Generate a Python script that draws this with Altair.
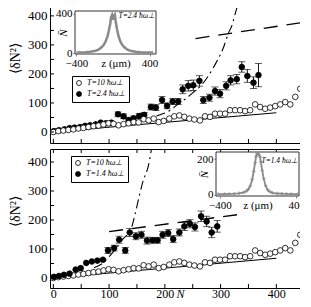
import altair as alt
import pandas as pd

# ---------------- data ----------------
lab_open = "T=10 ħω⊥"
lab_top = "T=2.4 ħω⊥"
lab_bot = "T=1.4 ħω⊥"

open_n = [0, 9, 18, 27, 36, 45, 54, 63, 72, 81, 90, 99, 108, 117, 126, 135, 144, 153, 162, 171,
          180, 189, 198, 208, 217, 226, 235, 244, 253, 263, 272, 281, 290, 299, 308, 317, 326, 335, 344, 353,
          362, 371, 380, 389, 398, 407, 416, 425, 434, 443]
open_v = [0, 3, 5, 7, 9, 12, 14, 17, 20, 22, 26, 30, 28, 23, 27, 30, 34, 33, 44, 40,
          46, 34, 38, 46, 54, 57, 52, 46, 43, 40, 54, 52, 63, 63, 63, 75, 75, 75, 72, 75,
          95, 86, 80, 84, 89, 95, 103, 95, 121, 149]

top_n = [1, 10, 20, 29, 38, 48, 57, 66, 76, 85, 94, 104, 116, 126, 135, 144, 154, 163, 175, 184,
         195, 204, 214, 224, 232, 242, 251, 262, 269, 280, 290, 299, 310, 318, 329, 338, 348, 359, 368]
top_v = [3, 6, 9, 13, 15, 17, 21, 23, 26, 32, 30, 32, 61, 54, 41, 47, 55, 59, 86, 84,
         110, 90, 105, 105, 147, 159, 161, 176, 110, 118, 141, 132, 159, 178, 182, 224, 193, 170, 196]
top_e = [0, 0, 0, 0, 0, 0, 0, 0, 0, 0, 0, 0, 8, 8, 8, 8, 8, 8, 10, 10,
         12, 10, 10, 10, 15, 18, 18, 18, 12, 12, 14, 14, 14, 16, 16, 18, 22, 20, 40]

bot_n = [1, 10, 19, 29, 40, 49, 59, 69, 79, 89, 98, 109, 118, 129, 137, 148, 158, 168, 178, 187,
         196, 206, 215, 226, 235, 245, 254, 265, 275, 284, 294]
bot_v = [4, 7, 11, 15, 29, 34, 52, 57, 60, 63, 95, 103, 132, 95, 157, 144, 149, 129, 130, 130,
         149, 155, 134, 157, 178, 187, 176, 213, 195, 157, 178]
bot_e = [0, 0, 0, 0, 0, 0, 0, 0, 0, 0, 10, 10, 12, 10, 14, 12, 12, 12, 10, 10,
         12, 12, 12, 12, 14, 14, 14, 18, 18, 18, 20]

solid_n = [0, 400]
solid_top_v = [0, 66]
solid_bot_v = [0, 68]

dd_top_n = [185, 200, 210, 226, 240, 250, 265, 280, 292, 305, 315, 320, 328, 332]
dd_top_v = [55, 65, 75, 100, 118, 135, 160, 199, 239, 290, 345, 365, 420, 445]
da_top_n = [255, 450]
da_top_v = [322, 378]

dd_bot_n = [73, 88, 103, 115, 125, 139, 146, 152, 160, 172, 176]
dd_bot_v = [35, 50, 80, 108, 135, 167, 215, 265, 328, 400, 445]
da_bot_n = [100, 345]
da_bot_v = [160, 222]

# inset density profiles
zt = [-400, -350, -300, -250, -200, -175, -150, -125, -100, -80, -60, -45, -30, -20, -10, 0,
      10, 20, 30, 45, 60, 80, 100, 125, 150, 175, 200, 250, 300, 350, 400, 440]
pt = [5, 6, 8, 12, 20, 28, 40, 58, 85, 120, 170, 230, 300, 370, 390, 340,
      380, 395, 320, 240, 175, 120, 85, 58, 40, 28, 20, 12, 8, 6, 5, 5]
zb = [-420, -350, -300, -250, -200, -150, -120, -100, -80, -60, -45, -30, -20, -10, 0,
      10, 20, 30, 45, 60, 80, 100, 120, 150, 200, 250, 300, 350, 420]
pb = [3, 3, 4, 5, 7, 12, 20, 30, 50, 85, 130, 180, 215, 230, 232,
      225, 215, 185, 135, 90, 50, 28, 18, 10, 6, 5, 4, 3, 3]

xtick_vals = [0, 50, 100, 150, 200, 250, 300, 350, 400, 450]
ytick_vals = [0, 50, 100, 150, 200, 250, 300, 350, 400]

# ---------------- layout ----------------
W, H = 257, 139
XDOM = [-6, 455]
SERIF = "Liberation Serif"


def main_panel(flab, fn, fv, fe, ydom, solid_v, ddn, ddv, dan, dav, show_x, lx, ly, ty_title):
    xs = alt.Scale(domain=XDOM, nice=False, zero=False)
    ys = alt.Scale(domain=ydom, nice=False, zero=False)
    if show_x:
        xa = alt.Axis(values=[0, 100, 200, 300, 400], ticks=False, domain=False, grid=False,
                      labelFont=SERIF, labelFontSize=12, labelPadding=0, labelColor="black",
                      title="N̄", titleFont=SERIF, titleFontSize=12, titleFontStyle="italic",
                      titleFontWeight="normal", titleColor="black",
                      titleX=130, titleY=0, titleBaseline="top", titleAlign="center")
    else:
        xa = None
    ya = alt.Axis(values=[0, 100, 200, 300, 400], ticks=False, domain=False, grid=False,
                  labelFont=SERIF, labelFontSize=13, labelPadding=3, labelColor="black",
                  title="⟨δN²⟩", titleFont=SERIF, titleFontSize=14, titleFontWeight="normal",
                  titleColor="black", titleX=-35, titleY=ty_title, titleAngle=270,
                  titleAlign="center", titleBaseline="middle")
    X = alt.X("n:Q", scale=xs, axis=xa)
    Y = alt.Y("v:Q", scale=ys, axis=ya)

    pts = pd.DataFrame({"n": open_n + fn, "v": open_v + fv,
                        "s": [lab_open] * len(open_n) + [flab] * len(fn)})
    err = pd.DataFrame({"n": fn, "lo": [a - b for a, b in zip(fv, fe)],
                        "hi": [a + b for a, b in zip(fv, fe)], "e": fe})
    err = err[err.e > 0]

    solid = alt.Chart(pd.DataFrame({"n": solid_n, "v": solid_v})).mark_line(
        color="black", strokeWidth=1.1).encode(x=X, y=Y)
    dd = alt.Chart(pd.DataFrame({"n": ddn, "v": ddv})).mark_line(
        color="black", strokeWidth=1.1, strokeDash=[9, 4, 2, 4], clip=True, interpolate="monotone").encode(x=X, y=Y)
    da = alt.Chart(pd.DataFrame({"n": dan, "v": dav})).mark_line(
        color="black", strokeWidth=1.3, strokeDash=[14, 9], clip=True).encode(x=X, y=Y)

    eb = alt.Chart(err).mark_rule(color="black", strokeWidth=0.9).encode(
        x=X, y=alt.Y("lo:Q", scale=ys, axis=ya), y2="hi:Q")
    cap_lo = alt.Chart(err).mark_tick(color="black", orient="horizontal", size=7, thickness=0.9).encode(
        x=X, y=alt.Y("lo:Q", scale=ys, axis=ya))
    cap_hi = alt.Chart(err).mark_tick(color="black", orient="horizontal", size=7, thickness=0.9).encode(
        x=X, y=alt.Y("hi:Q", scale=ys, axis=ya))

    points = alt.Chart(pts).mark_point(shape="circle", filled=True, size=32, stroke="black",
                                        strokeWidth=0.8, opacity=1).encode(
        x=X, y=Y,
        fill=alt.Fill("s:N", scale=alt.Scale(domain=[lab_open, flab], range=["white", "black"]),
                      legend=alt.Legend(orient="none", legendX=lx, legendY=ly, title=None,
                                        labelFont=SERIF, labelFontStyle="italic", labelFontSize=8,
                                        labelColor="black", symbolType="circle", symbolSize=25,
                                        symbolStrokeColor="black", symbolStrokeWidth=0.8,
                                        strokeColor="black", padding=3, rowPadding=1,
                                        cornerRadius=0, fillColor="white", labelOffset=4)),
        order=alt.Order("s:N", sort="descending"))

    tx = pd.DataFrame({"n": xtick_vals})
    ty = pd.DataFrame({"v": ytick_vals})
    tb = alt.Chart(tx).mark_rule(color="black").encode(x=X, y=alt.value(H), y2=alt.value(H - 4))
    tt = alt.Chart(tx).mark_rule(color="black").encode(x=X, y=alt.value(0), y2=alt.value(4))
    tl = alt.Chart(ty).mark_rule(color="black").encode(y=Y, x=alt.value(0), x2=alt.value(4))
    tr = alt.Chart(ty).mark_rule(color="black").encode(y=Y, x=alt.value(W), x2=alt.value(W - 4))

    return alt.layer(solid, dd, da, eb, cap_lo, cap_hi, points, tb, tt, tl, tr)


def inset(z, p, xdom, ydom, xr, yr, yvals, label, lab_x, lab_y, dots):
    xs = alt.Scale(domain=xdom, range=xr, nice=False, zero=False)
    ys = alt.Scale(domain=ydom, range=yr, nice=False, zero=False)
    xa = alt.Axis(orient="bottom", offset=yr[0] - H, values=[-400, 400], tickSize=2, domain=False,
                  grid=False, labelFont=SERIF, labelFontSize=11, labelPadding=1, labelColor="black",
                  labelFlush=dots,
                  title="z (μm)", titleFont=SERIF, titleFontSize=11, titleFontWeight="normal",
                  titleColor="black", titleX=(xr[0] + xr[1]) / 2, titleY=3, titleBaseline="top")
    ya = alt.Axis(orient="left", offset=-xr[0], values=yvals, tickSize=2, domain=False, grid=False,
                  labelFont=SERIF, labelFontSize=11, labelPadding=1, labelColor="black",
                  title="N̄", titleFont=SERIF, titleFontSize=11, titleFontStyle="italic",
                  titleFontWeight="normal", titleColor="black", titleX=-12,
                  titleY=(yr[0] + yr[1]) / 2, titleAlign="center", titleBaseline="middle", titleAngle=270)
    frame = alt.Chart(pd.DataFrame({"z": [xdom[0]], "z2": [xdom[1]], "p": [ydom[0]], "p2": [ydom[1]]})).mark_rect(
        fill="white", stroke="#333", strokeWidth=1).encode(
        x=alt.X("z:Q", scale=xs, axis=xa), x2="z2:Q", y=alt.Y("p:Q", scale=ys, axis=ya), y2="p2:Q")
    prof = pd.DataFrame({"z": z, "p": p})
    line = alt.Chart(prof).mark_line(color="#8a8a8a", strokeWidth=2.5 if not dots else 1.8).encode(
        x=alt.X("z:Q", scale=xs, axis=xa), y=alt.Y("p:Q", scale=ys, axis=ya))
    layers = [frame, line]
    if dots:
        layers.append(alt.Chart(prof).mark_point(shape="cross", size=12, color="#8a8a8a", filled=True).encode(
            x=alt.X("z:Q", scale=xs, axis=xa), y=alt.Y("p:Q", scale=ys, axis=ya)))
    txt = alt.Chart(pd.DataFrame({"t": [label]})).mark_text(
        font=SERIF, fontSize=7.5, fontStyle="italic", align="right", baseline="middle", color="black").encode(
        x=alt.value(lab_x), y=alt.value(lab_y), text="t:N")
    layers.append(txt)
    return alt.layer(*layers)


top_main = main_panel(lab_top, top_n, top_v, top_e, [-38, 441], solid_top_v,
                      dd_top_n, dd_top_v, da_top_n, da_top_v, False, 22, 72, 54)
top_inset = inset(zt, pt, [-415, 470], [-10, 430], [25, 106], [50, 7], [0, 400], lab_top, 105, 12, False)
top = alt.layer(top_main, top_inset).resolve_scale(x="independent", y="independent").properties(width=W, height=H)

bot_main = main_panel(lab_bot, bot_n, bot_v, bot_e, [-34.5, 444.8], solid_bot_v,
                      dd_bot_n, dd_bot_v, da_bot_n, da_bot_v, True, 21, 7, 62)
bot_inset = inset(zb, pb, [-440, 430], [-8, 240], [166, 249], [47, 3], [0, 200], lab_bot, 248, 12, True)
bottom = alt.layer(bot_main, bot_inset).resolve_scale(x="independent", y="independent").properties(width=W, height=H)

chart = alt.vconcat(top, bottom, spacing=4).resolve_scale(
    x="independent", y="independent", fill="independent").resolve_legend(fill="independent").properties(
    padding={"left": -1, "top": -5, "right": -8, "bottom": -1},
    background="white").configure_view(stroke="black", strokeWidth=1)

chart.save("out.html", embed_options={"renderer": "svg", "actions": False})
